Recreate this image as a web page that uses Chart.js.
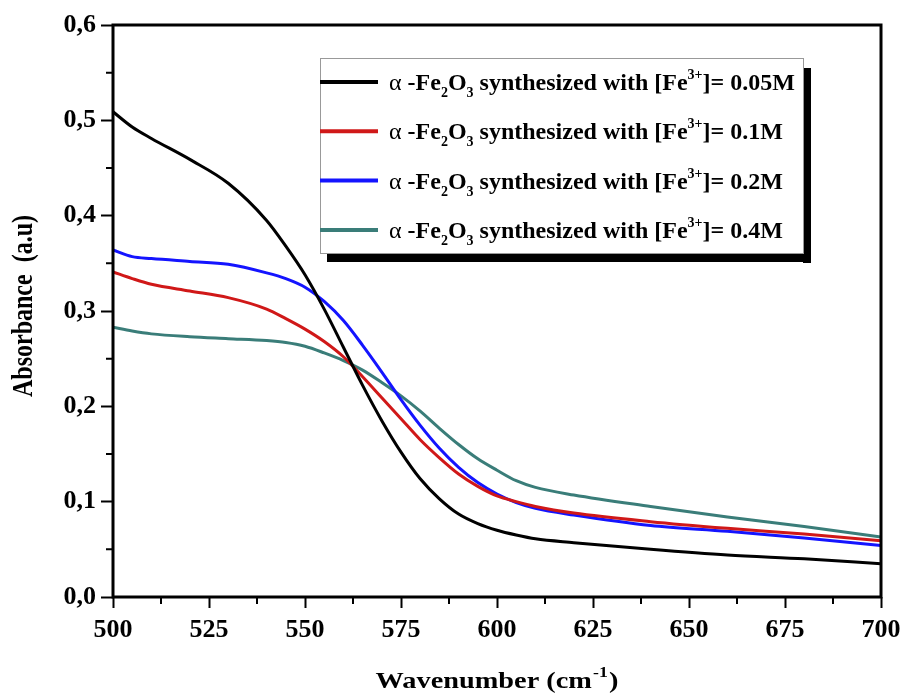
<!DOCTYPE html>
<html>
<head>
<meta charset="utf-8">
<script src="https://cdn.jsdelivr.net/npm/chart.js@4.4.1/dist/chart.umd.min.js"></script>
<style>
  html, body { margin: 0; padding: 0; background: #fff; }
  #wrap { width: 902px; height: 693px; position: relative; }
</style>
</head>
<body>
<div id="wrap"><canvas id="chart"></canvas></div>
<script>
// wavenumber grid (cm-1) and absorbance
const wavenumbers = [500, 505, 510, 520, 530, 540, 545, 550, 555, 560, 565, 570, 575, 580, 585, 590, 595, 600, 605, 610, 620, 640, 660, 680, 700];
const abs005 = [0.509, 0.493, 0.481, 0.459, 0.434, 0.395, 0.368, 0.338, 0.302, 0.262, 0.222, 0.185, 0.152, 0.124, 0.103, 0.087, 0.077, 0.070, 0.065, 0.061, 0.057, 0.050, 0.044, 0.040, 0.035];
const abs01  = [0.341, 0.334, 0.328, 0.321, 0.314, 0.302, 0.292, 0.281, 0.268, 0.252, 0.231, 0.209, 0.187, 0.165, 0.146, 0.129, 0.116, 0.106, 0.100, 0.095, 0.088, 0.079, 0.072, 0.066, 0.059];
const abs02  = [0.364, 0.357, 0.355, 0.352, 0.349, 0.340, 0.334, 0.325, 0.310, 0.290, 0.264, 0.236, 0.207, 0.180, 0.156, 0.136, 0.120, 0.108, 0.099, 0.093, 0.086, 0.075, 0.069, 0.062, 0.054];
const abs04  = [0.283, 0.279, 0.276, 0.273, 0.271, 0.269, 0.267, 0.263, 0.256, 0.248, 0.238, 0.225, 0.211, 0.195, 0.177, 0.160, 0.145, 0.133, 0.122, 0.115, 0.107, 0.095, 0.084, 0.074, 0.063];
const concentrations = ['0.05M', '0.1M', '0.2M', '0.4M'];
const colors = ['#000000', '#d01818', '#1414ff', '#3a7d79'];
const xTicks = [500, 525, 550, 575, 600, 625, 650, 675, 700];
const yTicks = [0, 0.1, 0.2, 0.3, 0.4, 0.5, 0.6];

const series = [abs005, abs01, abs02, abs04];
const SERIF = '"Liberation Serif", "Times New Roman", serif';

function pts(vals) {
  return wavenumbers.map((w, i) => ({x: w, y: vals[i]}));
}

// frame, minor ticks, titles and the shadowed legend box
const decor = {
  id: 'decor',
  afterDraw(chart) {
    const ctx = chart.ctx;
    const a = chart.chartArea;
    const xs = chart.scales.x, ys = chart.scales.y;
    ctx.save();
    ctx.strokeStyle = '#000';
    ctx.lineWidth = 3;
    ctx.strokeRect(a.left, a.top, a.right - a.left, a.bottom - a.top);

    ctx.lineWidth = 2;
    ctx.beginPath();
    for (let v = 512.5; v < 700; v += 25) {
      const px = xs.getPixelForValue(v);
      ctx.moveTo(px, a.bottom);
      ctx.lineTo(px, a.bottom + 7);
    }
    for (let v = 0.05; v < 0.6; v += 0.1) {
      const py = ys.getPixelForValue(v);
      ctx.moveTo(a.left, py);
      ctx.lineTo(a.left - 7, py);
    }
    ctx.stroke();

    // x title, stretched a little like the original
    ctx.fillStyle = '#000';
    ctx.textBaseline = 'alphabetic';
    ctx.textAlign = 'left';
    const t1 = 'Wavenumber (cm', t2 = '-1', t3 = ')';
    ctx.font = 'bold 24px ' + SERIF;
    const w1 = ctx.measureText(t1).width, w3 = ctx.measureText(t3).width;
    ctx.font = 'bold 15px ' + SERIF;
    const w2 = ctx.measureText(t2).width;
    const sx = 1.18;
    ctx.save();
    ctx.translate((a.left + a.right) / 2 - sx * (w1 + w2 + w3 + 2) / 2, 688);
    ctx.scale(sx, 1);
    ctx.font = 'bold 24px ' + SERIF;
    ctx.fillText(t1, 0, 0);
    ctx.font = 'bold 15px ' + SERIF;
    ctx.fillText(t2, w1 + 1, -11);
    ctx.font = 'bold 24px ' + SERIF;
    ctx.fillText(t3, w1 + w2 + 2, 0);
    ctx.restore();

    // y title
    ctx.save();
    ctx.translate(32, 306);
    ctx.rotate(-Math.PI / 2);
    ctx.scale(1, 1.25);
    ctx.textAlign = 'center';
    ctx.font = 'bold 24px ' + SERIF;
    ctx.fillText('Absorbance  (a.u)', 0, 0);
    ctx.restore();

    // legend
    const L = 320, T = 58, R = 803, B = 253;
    ctx.fillStyle = '#000';
    ctx.fillRect(R, T + 10, 8, B - T);
    ctx.fillRect(L + 7, B, R - L + 1, 9);
    ctx.fillStyle = '#fff';
    ctx.fillRect(L, T, R - L, B - T);
    ctx.strokeStyle = '#999';
    ctx.lineWidth = 1;
    ctx.strokeRect(L + 0.5, T + 0.5, R - L, B - T);

    concentrations.forEach((c, i) => {
      const cy = 82 + i * 49.3;
      ctx.strokeStyle = colors[i];
      ctx.lineWidth = 4;
      ctx.beginPath();
      ctx.moveTo(L, cy);
      ctx.lineTo(L + 58, cy);
      ctx.stroke();

      const base = cy + 8;
      let x = L + 69;
      ctx.fillStyle = '#000';
      ctx.textAlign = 'left';
      const parts = [
        ['α', '24px ' + SERIF, 0],
        [' -Fe', 'bold 24px ' + SERIF, 0],
        ['2', 'bold 14px ' + SERIF, 7],
        ['O', 'bold 24px ' + SERIF, 0],
        ['3', 'bold 14px ' + SERIF, 7],
        [' synthesized with [Fe', 'bold 24px ' + SERIF, 0],
        ['3+', 'bold 14px ' + SERIF, -11],
        [']= ' + c, 'bold 24px ' + SERIF, 0]
      ];
      parts.forEach(p => {
        ctx.font = p[1];
        ctx.fillText(p[0], x, base + p[2]);
        x += ctx.measureText(p[0]).width;
      });
    });
    ctx.restore();
  }
};

new Chart(document.getElementById('chart'), {
  type: 'line',
  data: {
    datasets: series.map((s, i) => ({
      label: concentrations[i],
      data: pts(s),
      borderColor: colors[i],
      borderWidth: 3,
      pointRadius: 0,
      cubicInterpolationMode: 'monotone',
      fill: false
    }))
  },
  options: {
    responsive: true,
    maintainAspectRatio: false,
    animation: false,
    layout: { padding: { left: 0, top: 25, right: 21, bottom: 0 } },
    plugins: { legend: { display: false }, tooltip: { enabled: false } },
    scales: {
      x: {
        type: 'linear',
        min: 500, max: 700,
        afterBuildTicks: s => { s.ticks = xTicks.map(v => ({value: v})); },
        afterFit: s => { s.height = 96; s.paddingLeft = 0; s.paddingRight = 0; },
        grid: { drawOnChartArea: false, tickLength: 11, tickWidth: 2, tickColor: '#000' },
        border: { display: false },
        ticks: { color: '#000', padding: 7, maxRotation: 0, font: { family: SERIF, size: 26, weight: 'bold' } }
      },
      y: {
        min: 0, max: 0.6,
        afterBuildTicks: s => { s.ticks = yTicks.map(v => ({value: v})); },
        afterFit: s => { s.width = 113; s.paddingTop = 0; s.paddingBottom = 0; },
        grid: { drawOnChartArea: false, tickLength: 12, tickWidth: 2, tickColor: '#000' },
        border: { display: false },
        ticks: {
          color: '#000', padding: 5,
          font: { family: SERIF, size: 26, weight: 'bold' },
          callback: v => v.toFixed(1).replace('.', ',')
        }
      }
    }
  },
  plugins: [decor]
});
</script>
</body>
</html>
